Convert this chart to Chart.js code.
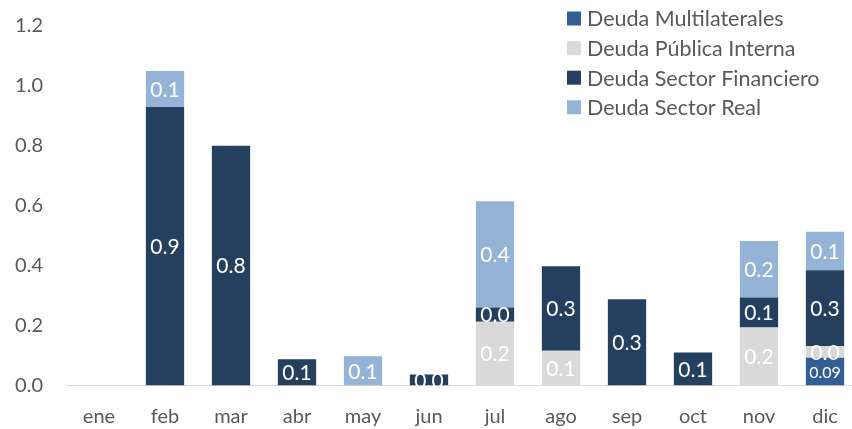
<!DOCTYPE html>
<html>
<head>
<meta charset="utf-8">
<script src="https://cdn.jsdelivr.net/npm/chart.js@4.4.1/dist/chart.umd.min.js"></script>
<style>
    html, body { margin: 0; padding: 0; background: #fff; overflow: hidden; }
    #wrap { position: absolute; left: 0; top: 0; width: 858px; height: 429px; }
</style>
</head>
<body>
<div id="wrap"><canvas id="chart" width="858" height="429"></canvas></div>
<script>
const months = ["ene", "feb", "mar", "abr", "may", "jun", "jul", "ago", "sep", "oct", "nov", "dic"];
const multilaterales = [0, 0, 0, 0, 0, 0, 0, 0, 0, 0, 0, 0.093];
const publicaInterna = [0, 0, 0, 0, 0, 0, 0.213, 0.116, 0, 0, 0.194, 0.039];
const sectorFinanciero = [0, 0.93, 0.80, 0.088, 0, 0.037, 0.047, 0.282, 0.288, 0.11, 0.10, 0.253];
const sectorReal = [0, 0.12, 0, 0, 0.098, 0, 0.355, 0, 0, 0, 0.188, 0.128];
const yTicks = [0, 0.2, 0.4, 0.6, 0.8, 1.0, 1.2];

const fontName = "Lato, 'Open Sans', sans-serif";
const textColor = "#595959";

// value labels in the middle of each segment
const valueLabels = {
    id: "valueLabels",
    afterDatasetsDraw(chart) {
        const ctx = chart.ctx;
        ctx.save();
        ctx.fillStyle = "#fff";
        ctx.textAlign = "center";
        ctx.textBaseline = "middle";
        chart.data.datasets.forEach((ds, i) => {
            const meta = chart.getDatasetMeta(i);
            meta.data.forEach((bar, j) => {
                const v = ds.data[j];
                if (!v) return;
                const small = ds.decimals === 2;
                ctx.font = (small ? "16px " : "21px ") + fontName;
                const mid = (bar.y + bar.base) / 2;
                ctx.fillText(v.toFixed(ds.decimals), bar.x, mid + 1);
            });
        });
        ctx.restore();
    }
};

// legend drawn in the top right corner, over the plot
const cornerLegend = {
    id: "cornerLegend",
    afterDraw(chart) {
        const ctx = chart.ctx;
        ctx.save();
        ctx.font = "21.5px " + fontName;
        ctx.textBaseline = "middle";
        chart.data.datasets.forEach((ds, i) => {
            const y = 18.5 + i * 29.6;
            ctx.fillStyle = ds.backgroundColor;
            ctx.fillRect(567, y - 7, 14, 14);
            ctx.fillStyle = textColor;
            ctx.fillText(ds.label, 587, y + 1);
        });
        ctx.restore();
    }
};

new Chart(document.getElementById("chart"), {
    type: "bar",
    data: {
        labels: months,
        datasets: [
            { label: "Deuda Multilaterales", data: multilaterales, backgroundColor: "#325d95", decimals: 2 },
            { label: "Deuda Pública Interna", data: publicaInterna, backgroundColor: "#d9d9d9", decimals: 1 },
            { label: "Deuda Sector Financiero", data: sectorFinanciero, backgroundColor: "#253f5f", decimals: 1 },
            { label: "Deuda Sector Real", data: sectorReal, backgroundColor: "#95b3d7", decimals: 1 },
        ],
    },
    options: {
        responsive: false,
        animation: false,
        layout: { padding: { top: 26, left: 0, right: 0, bottom: 0 } },
        datasets: { bar: { barPercentage: 0.58, categoryPercentage: 1, borderWidth: 0 } },
        plugins: {
            legend: { display: false },
            tooltip: { enabled: false },
        },
        scales: {
            x: {
                stacked: true,
                grid: { display: false, drawTicks: false },
                border: { display: true, color: "#d9d9d9", width: 1 },
                ticks: { color: textColor, font: { family: fontName, size: 20 }, padding: 19 },
                afterFit: (scale) => { scale.height = 43.5; },
            },
            y: {
                stacked: true,
                min: 0,
                max: 1.2,
                afterBuildTicks: (scale) => { scale.ticks = yTicks.map(v => ({ value: v })); },
                afterFit: (scale) => {
                    scale.width = 66;
                    scale.paddingTop = 0;
                    scale.paddingBottom = 0;
                },
                grid: { display: false, drawTicks: false },
                border: { display: false },
                ticks: {
                    color: textColor,
                    font: { family: fontName, size: 20 },
                    padding: 23,
                    callback: (v) => Number(v).toFixed(1),
                },
            },
        },
    },
    plugins: [valueLabels, cornerLegend],
});
</script>
</body>
</html>
